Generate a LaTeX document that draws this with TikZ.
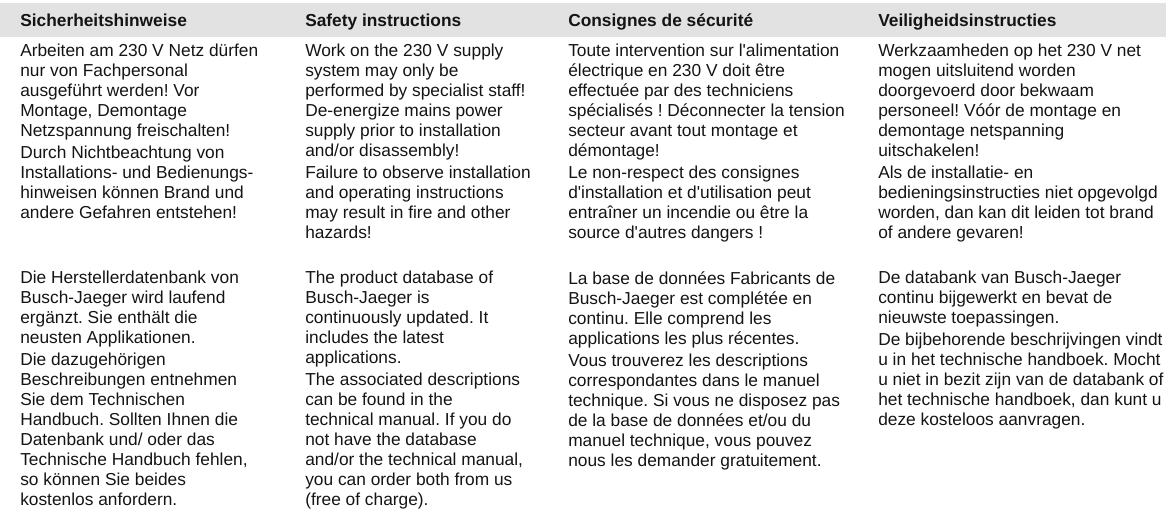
\documentclass[tikz,border=0pt]{standalone}
\usepackage{fontspec}
\usepackage{tikz}
\usepackage{xcolor}
\usetikzlibrary{positioning}
\newfontfamily\arialfont{Liberation Sans}
\frenchspacing
\definecolor{barGray}{RGB}{226,226,226}
\definecolor{textBlack}{RGB}{20,20,20}
\tikzset{
  headbar/.style={fill=barGray},
  colhead/.style={anchor=base west, inner sep=0pt, align=left, text=textBlack, font=\arialfont\bfseries\fontsize{13}{15}\selectfont},
  coltext/.style={anchor=north west, inner sep=0pt, align=left, text=textBlack, font=\arialfont\fontsize{13}{15}\selectfont}
}
\newcommand{\pgap}{\\[1.6pt]}

\begin{document}
\begin{tikzpicture}[x=0.75pt, y=-0.75pt]
  \useasboundingbox (0,0) rectangle (1171,509);
  \fill[headbar] (0,3) rectangle (1166,37);

  \node[colhead] (hde) at (20,27) {Sicherheitshinweise};
  \node[colhead] (hen) at (305,27) {Safety instructions};
  \node[colhead] (hfr) at (568,27) {Consignes de sécurité};
  \node[colhead] (hnl) at (878,27) {Veiligheidsinstructies};

  \node[coltext] (sde) at (20,44) {Arbeiten am 230 V Netz dürfen\\nur von Fachpersonal\\ausgeführt werden! Vor\\Montage, Demontage\\Netzspannung freischalten!\pgap Durch Nichtbeachtung von\\Installations- und Bedienungs-\\hinweisen können Brand und\\andere Gefahren entstehen!};
  \node[coltext] (sen) at (305,44) {Work on the 230 V supply\\system may only be\\performed by specialist staff!\\De-energize mains power\\supply prior to installation\\and/or disassembly!\pgap Failure to observe installation\\and operating instructions\\may result in fire and other\\hazards!};
  \node[coltext] (sfr) at (568,44) {Toute intervention sur l'alimentation\\électrique en 230 V doit être\\effectuée par des techniciens\\spécialisés ! Déconnecter la tension\\secteur avant tout montage et\\démontage!\pgap Le non-respect des consignes\\d'installation et d'utilisation peut\\entraîner un incendie ou être la\\source d'autres dangers !};
  \node[coltext] (snl) at (878,44) {Werkzaamheden op het 230 V net\\mogen uitsluitend worden\\doorgevoerd door bekwaam\\personeel! Vóór de montage en\\demontage netspanning\\uitschakelen!\pgap Als de installatie- en\\bedieningsinstructies niet opgevolgd\\worden, dan kan dit leiden tot brand\\of andere gevaren!};

  \node[coltext] (dde) at (20,271) {Die Herstellerdatenbank von\\Busch-Jaeger wird laufend\\ergänzt. Sie enthält die\\neusten Applikationen.\pgap Die dazugehörigen\\Beschreibungen entnehmen\\Sie dem Technischen\\Handbuch. Sollten Ihnen die\\Datenbank und/ oder das\\Technische Handbuch fehlen,\\so können Sie beides\\kostenlos anfordern.};
  \node[coltext] (den) at (305,271) {The product database of\\Busch-Jaeger is\\continuously updated. It\\includes the latest\\applications.\pgap The associated descriptions\\can be found in the\\technical manual. If you do\\not have the database\\and/or the technical manual,\\you can order both from us\\(free of charge).};
  \node[coltext] (dfr) at (568,271) {La base de données Fabricants de\\Busch-Jaeger est complétée en\\continu. Elle comprend les\\applications les plus récentes.\pgap Vous trouverez les descriptions\\correspondantes dans le manuel\\technique. Si vous ne disposez pas\\de la base de données et/ou du\\manuel technique, vous pouvez\\nous les demander gratuitement.};
  \node[coltext] (dnl) at (878,271) {De databank van Busch-Jaeger\\continu bijgewerkt en bevat de\\nieuwste toepassingen.\pgap De bijbehorende beschrijvingen vindt\\u in het technische handboek. Mocht\\u niet in bezit zijn van de databank of\\het technische handboek, dan kunt u\\deze kosteloos aanvragen.};
\end{tikzpicture}
\end{document}
